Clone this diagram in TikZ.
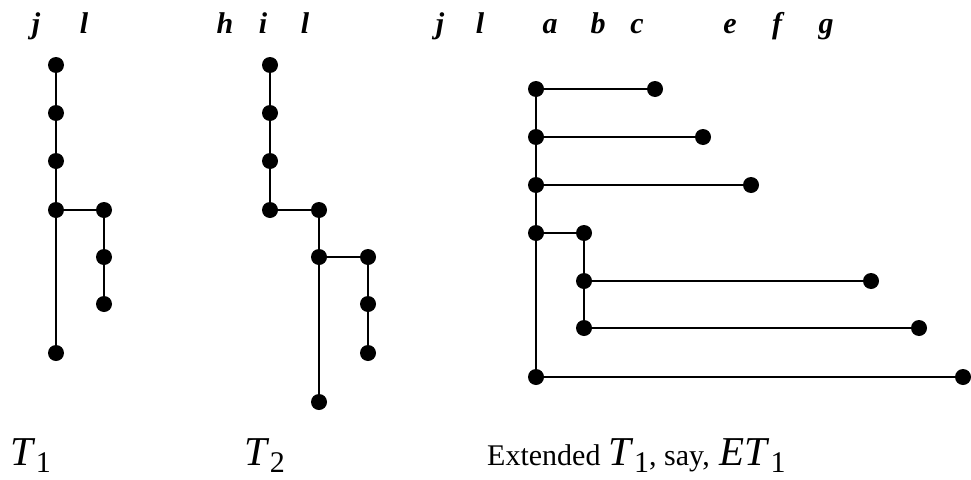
\documentclass[tikz,border=0pt]{standalone}
\usepackage{fontspec}
\setmainfont{Liberation Serif}
\newcommand{\subone}[1]{\kern0.5pt\raisebox{-7pt}{\fontsize{30}{30}\selectfont #1}}
\begin{document}
\begin{tikzpicture}[x=1pt,y=-1pt,
  dot/.style={circle,fill=black,inner sep=0pt,minimum size=16pt},
  edge/.style={line width=2.8pt},
  toplab/.style={anchor=base,inner sep=0pt,font=\fontsize{30}{30}\selectfont\bfseries\itshape},
  botlab/.style={anchor=base west,inner sep=0pt,font=\fontsize{41}{41}\selectfont}]
\useasboundingbox (0,0) rectangle (971,479);
% T1
\node[dot] (p1) at (56,65) {};
\node[dot] (p2) at (56,113) {};
\node[dot] (p3) at (56,161) {};
\node[dot] (p4) at (56,210) {};
\node[dot] (p5) at (56,353) {};
\node[dot] (q1) at (104,210) {};
\node[dot] (q2) at (104,257) {};
\node[dot] (q3) at (104,304) {};
\draw[edge] (p1)--(p2)--(p3)--(p4)--(p5);
\draw[edge] (p4)--(q1)--(q2)--(q3);
% T2
\node[dot] (r1) at (270,65) {};
\node[dot] (r2) at (270,113) {};
\node[dot] (r3) at (270,161) {};
\node[dot] (r4) at (270,210) {};
\node[dot] (s1) at (319,210) {};
\node[dot] (s2) at (319,257) {};
\node[dot] (s3) at (319,402) {};
\node[dot] (t1) at (368,257) {};
\node[dot] (t2) at (368,304) {};
\node[dot] (t3) at (368,353) {};
\draw[edge] (r1)--(r2)--(r3)--(r4)--(s1)--(s2)--(s3);
\draw[edge] (s2)--(t1)--(t2)--(t3);
% ET1
\node[dot] (a1) at (536,89) {};
\node[dot] (a2) at (536,137) {};
\node[dot] (a3) at (536,185) {};
\node[dot] (a4) at (536,233) {};
\node[dot] (a5) at (536,377) {};
\node[dot] (b1) at (584,233) {};
\node[dot] (b2) at (584,281) {};
\node[dot] (b3) at (584,328) {};
\node[dot] (c1) at (655,89) {};
\node[dot] (c2) at (703,137) {};
\node[dot] (c3) at (751,185) {};
\node[dot] (c4) at (871,281) {};
\node[dot] (c5) at (919,328) {};
\node[dot] (c6) at (963,377) {};
\draw[edge] (a1)--(a2)--(a3)--(a4)--(a5);
\draw[edge] (a4)--(b1)--(b2)--(b3);
\draw[edge] (a1)--(c1);
\draw[edge] (a2)--(c2);
\draw[edge] (a3)--(c3);
\draw[edge] (b2)--(c4);
\draw[edge] (b3)--(c5);
\draw[edge] (a5)--(c6);
% top labels
\node[toplab] (lj1) at (36,33) {j};
\node[toplab] (ll1) at (84,33) {l};
\node[toplab] (lh2) at (225,33) {h};
\node[toplab] (li2) at (263,33) {i};
\node[toplab] (ll2) at (305,33) {l};
\node[toplab] (lj3) at (440,33) {j};
\node[toplab] (ll3) at (480,33) {l};
\node[toplab] (la3) at (550,33) {a};
\node[toplab] (lb3) at (598,33) {b};
\node[toplab] (lc3) at (637,33) {c};
\node[toplab] (le3) at (730,33) {e};
\node[toplab] (lf3) at (777,33) {f};
\node[toplab] (lg3) at (826,33) {g};
% bottom labels
\node[botlab] (T1) at (10,465) {\textit{T}\subone{1}};
\node[botlab] (T2) at (244,465) {\textit{T}\subone{2}};
\node[anchor=base west,inner sep=0pt] (ET) at (487,465) {\fontsize{30}{30}\selectfont Extended\hspace{8pt}\fontsize{41}{41}\selectfont\textit{T}\subone{1}\fontsize{30}{30}\selectfont, say,\hspace{10pt}\fontsize{41}{41}\selectfont\textit{ET}\subone{1}};
\end{tikzpicture}
\end{document}
